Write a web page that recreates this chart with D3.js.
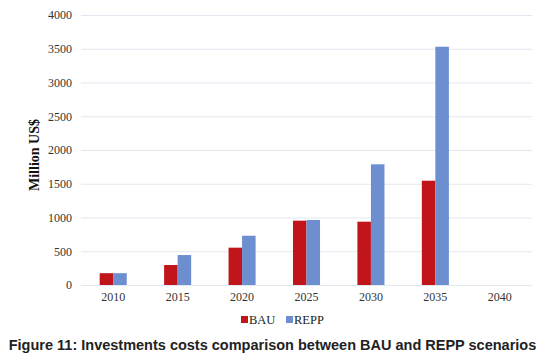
<!DOCTYPE html>
<html>
<head>
<meta charset="utf-8">
<script src="https://cdn.jsdelivr.net/npm/d3@7"></script>
<style>
  body { margin: 0; background: #fff; }
</style>
</head>
<body>
<div class="canvas"></div>
<script>
// Chart data
const years = ["2010", "2015", "2020", "2025", "2030", "2035", "2040"];
const bau = [175, 296, 553, 953, 938, 1545, 0];
const repp = [175, 444, 730, 963, 1788, 3530, 0];
const seriesNames = ["BAU", "REPP"];
const yTicks = [0, 500, 1000, 1500, 2000, 2500, 3000, 3500, 4000];
const colours = ["#c0161b", "#6d8fd0"];

const width = 545, height = 360;
const margin = { top: 15, right: 13, bottom: 75, left: 81 };
const graphWidth = width - margin.left - margin.right;
const graphHeight = height - margin.top - margin.bottom;

const svg = d3.select(".canvas")
    .append("svg")
    .attr("width", width)
    .attr("height", height);

const graph = svg.append("g")
    .attr("transform", `translate(${margin.left}, ${margin.top})`);

// Scales
const x = d3.scaleBand()
    .domain(years)
    .range([0, graphWidth]);
const x1 = d3.scaleBand()
    .domain(seriesNames)
    .range([x.bandwidth() * 0.29, x.bandwidth() * 0.71]);
const y = d3.scaleLinear()
    .domain([0, 4000])
    .range([graphHeight, 0]);

// Gridlines
graph.append("g")
    .selectAll("line")
    .data(yTicks)
    .enter()
    .append("line")
    .attr("x1", 0)
    .attr("x2", graphWidth)
    .attr("y1", d => y(d) + 0.5)
    .attr("y2", d => y(d) + 0.5)
    .attr("stroke", "#e1e8f0")
    .attr("stroke-width", 1);

// Axes (lines hidden, labels kept)
const yAxis = d3.axisLeft(y).tickValues(yTicks).tickFormat(d3.format("d")).tickSize(0).tickPadding(9);
const yAxisGroup = graph.append("g").call(yAxis);
const xAxis = d3.axisBottom(x).tickSize(0).tickPadding(7);
const xAxisGroup = graph.append("g")
    .attr("transform", `translate(0, ${graphHeight})`)
    .call(xAxis);
[yAxisGroup, xAxisGroup].forEach(g => {
    g.select(".domain").remove();
    g.selectAll("text")
        .attr("font-family", "'Liberation Serif', 'DejaVu Serif', serif")
        .attr("font-size", 12)
        .attr("fill", "#333");
});

// Bars
const rows = years.map((yr, i) => ({ year: yr, values: [bau[i], repp[i]] }));
const groups = graph.selectAll(".grp")
    .data(rows)
    .enter()
    .append("g")
    .attr("transform", d => `translate(${x(d.year)}, 0)`);
groups.selectAll("rect")
    .data(d => d.values.map((v, j) => ({ name: seriesNames[j], value: v, j })))
    .enter()
    .append("rect")
    .attr("x", d => x1(d.name))
    .attr("width", x1.bandwidth())
    .attr("y", d => y(d.value))
    .attr("height", d => graphHeight - y(d.value))
    .attr("fill", d => colours[d.j]);

// Y-axis title
svg.append("text")
    .attr("transform", `translate(39, 155) rotate(-90)`)
    .attr("text-anchor", "middle")
    .attr("font-family", "'Liberation Serif', serif")
    .attr("font-weight", "bold")
    .attr("font-size", 14)
    .attr("fill", "#111")
    .text("Million US$");

// Legend
const legend = svg.append("g").attr("transform", "translate(241, 324)");
const legendX = [0, 45];
seriesNames.forEach((name, i) => {
    legend.append("rect")
        .attr("x", legendX[i])
        .attr("y", -8)
        .attr("width", 7)
        .attr("height", 7)
        .attr("fill", colours[i]);
    legend.append("text")
        .attr("x", legendX[i] + 8)
        .attr("y", 0)
        .attr("font-family", "'Liberation Serif', serif")
        .attr("font-size", 12.5)
        .attr("fill", "#222")
        .text(name);
});

// Caption
svg.append("text")
    .attr("x", width / 2)
    .attr("y", 350)
    .attr("text-anchor", "middle")
    .attr("font-family", "'Liberation Sans', Arial, sans-serif")
    .attr("font-weight", "bold")
    .attr("font-size", 14.5)
    .attr("fill", "#222")
    .text("Figure 11: Investments costs comparison between BAU and REPP scenarios");
</script>
</body>
</html>
